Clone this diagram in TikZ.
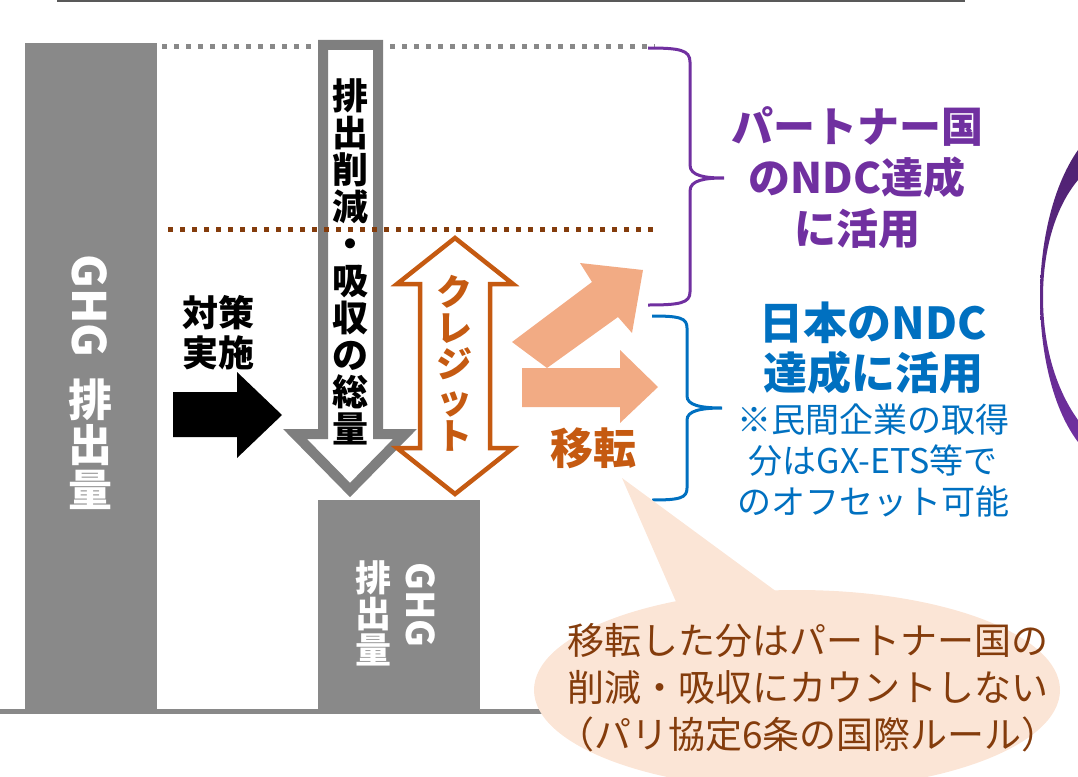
\documentclass[tikz,border=0pt]{standalone}
\usepackage{fontspec}
\setmainfont{Noto Sans CJK JP}
\usetikzlibrary{calc}
\definecolor{barGray}{HTML}{898989}
\definecolor{arrowGray}{HTML}{7F7F7F}
\definecolor{lineBrown}{HTML}{843C0C}
\definecolor{creditOrange}{HTML}{C55A11}
\definecolor{moveSalmon}{HTML}{F2AB84}
\definecolor{ndcPurple}{HTML}{7030A0}
\definecolor{ndcBlue}{HTML}{0070C0}
\definecolor{noteFill}{HTML}{FBE5D6}
\def\fs#1#2{\fontsize{#1}{#2}\selectfont}

\begin{document}
\begin{tikzpicture}[x=1pt, y=-1pt]
			%%%%% START %%%%%
			\useasboundingbox (0,0) rectangle (1078,776);
			
			\draw[line width=2pt, color=black!65] (57,1) -- (965,1);
			\draw[line width=5pt, color=barGray] (0,711) -- (600,711);
			
			\fill[barGray] (25,43) rectangle (157,711);
			\fill[barGray] (318,500) rectangle (480,711);
			
			\draw[line width=5pt, color=barGray, dash pattern=on 5pt off 7pt] (162,47) -- (655,47);
			
			\draw[line width=10pt, color=arrowGray, fill=white, line join=miter] (323,45) -- (378,45) -- (378,434) -- (405,434) -- (350,490) -- (295,434) -- (323,434) -- cycle;
			
			\draw[line width=5pt, color=lineBrown, dash pattern=on 5pt off 7pt] (168,229) -- (655,229);
			
			\draw[line width=4.5pt, color=creditOrange, fill=white, line join=miter] (455,238) -- (513,284) -- (490,284) -- (490,448) -- (513,448) -- (455,494) -- (397,448) -- (420,448) -- (420,284) -- (397,284) -- cycle;
			
			\fill[black] (173,392) -- (237,392) -- (237,372) -- (282,415) -- (237,458) -- (237,437) -- (173,437) -- cycle;
			
			\fill[moveSalmon] (522,368) -- (620,368) -- (620,350) -- (658,387) -- (620,423) -- (620,407) -- (522,407) -- cycle;
			\fill[moveSalmon] (512,342) -- (592,282) -- (580,263) -- (643,270) -- (632,333) -- (618,317) -- (547,368) -- cycle;
			
			\draw[line width=3pt, color=ndcPurple] (648,48) .. controls (680,48) and (690,50) .. (690,62) -- (690,165) .. controls (690,176) and (705,178) .. (724,178) .. controls (705,178) and (690,180) .. (690,191) -- (690,292) .. controls (690,303) and (680,305) .. (648,305);
			\draw[line width=3pt, color=ndcBlue] (652,316) .. controls (680,316) and (687,318) .. (687,328) -- (687,396) .. controls (687,405) and (700,408) .. (722,408) .. controls (700,408) and (687,411) .. (687,420) -- (687,488) .. controls (687,498) and (680,500) .. (652,500);
			
			\path[top color=ndcPurple!70!black, bottom color=ndcPurple] (1078,150) .. controls (1050,190) and (1040,250) .. (1040,297) .. controls (1040,345) and (1050,405) .. (1078,442) -- (1078,420) .. controls (1053,385) and (1043,340) .. (1043,297) .. controls (1043,255) and (1053,210) .. (1078,180) -- cycle;
			
			\node[font=\bfseries\fs{46}{46}, text=white, rotate=-90] (ghgLeft) at (90,306) {GHG};
			\node[font=\bfseries\fs{44}{45}, text=white, align=center] (emitLeft) at (90,444) {排\\出\\量};
			\node[font=\bfseries\fs{38}{38}, text=white, rotate=-90] (ghgRight) at (421,605) {GHG};
			\node[font=\bfseries\fs{36}{36}, text=white, align=center] (emitRight) at (373,613) {排\\出\\量};
			
			\node[font=\bfseries\fs{36}{37}, align=center] (reductionText) at (350,262) {排\\出\\削\\減\\・\\吸\\収\\の\\総\\量};
			\node[font=\bfseries\fs{36}{40}, align=center] (measureText) at (218,333) {対策\\実施};
			\node[font=\bfseries\fs{36}{36}, text=creditOrange, align=center] (creditText) at (454,363) {ク\\レ\\ジ\\ッ\\ト};
			\node[font=\bfseries\fs{43}{43}, text=creditOrange] (moveText) at (593,448) {移転};
			
			\node[font=\bfseries\fs{42}{51}, text=ndcPurple, align=center] (partnerText) at (857,178) {パートナー国\\のNDC達成\\に活用};
			\node[font=\bfseries\fs{44}{50}, text=ndcBlue, align=center] (japanText) at (873,348) {日本のNDC\\達成に活用};
			\node[font=\fs{34}{41}, text=ndcBlue, align=center] (offsetText) at (873,461) {※民間企業の取得\\分はGX-ETS等で\\のオフセット可能};
			
			\fill[noteFill] (622,478) -- (677,604) -- (777,592) -- cycle;
			\fill[noteFill] (797,690) ellipse [x radius=263, y radius=100];
			\node[font=\fs{37}{47}, text=lineBrown, align=center] (noteText) at (808,688) {移転した分はパートナー国の\\削減・吸収にカウントしない\\（パリ協定6条の国際ルール）};
			
			%%%%% END %%%%%
\end{tikzpicture}
\end{document}
